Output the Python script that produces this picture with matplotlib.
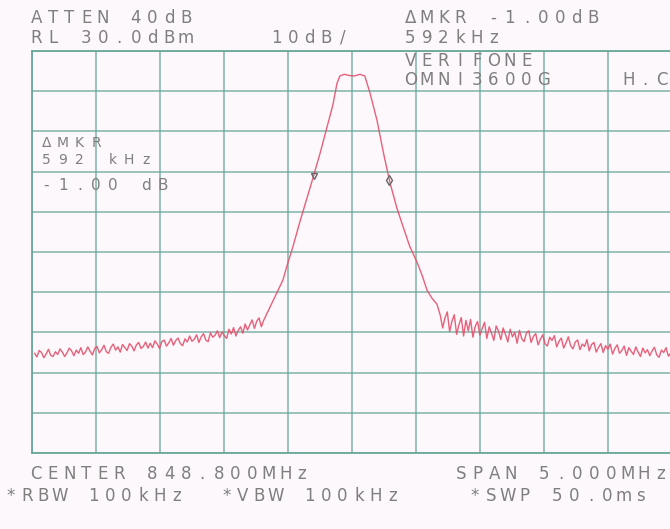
import matplotlib
matplotlib.use('Agg')
import matplotlib.pyplot as plt
import numpy as np

# Spectrum analyser settings (as printed on the plot)
center_mhz = 848.8
span_mhz = 5.0
ref_level_dbm = 30.0
db_per_div = 10.0

# Trace: frequency offset from centre [MHz] / level [dBm]
left_noise_db = [
    -45.2, -46.1, -44.5, -45.0, -46.3, -45.4, -44.2, -45.7, -46.0, -44.8,
    -45.5, -44.1, -44.9, -46.0, -45.1, -43.9, -44.6, -45.8, -44.4, -45.2,
    -43.8, -45.5, -44.9, -43.6, -44.7, -45.6, -44.0, -43.5, -45.1, -44.3,
    -43.2, -44.8, -45.2, -43.7, -42.9, -44.4, -43.6, -44.9, -43.0, -43.8,
    -44.5, -42.8, -43.4, -44.6, -43.1, -42.5, -44.0, -43.5, -42.4, -43.9,
    -42.7, -43.8, -42.1, -42.9, -44.0, -42.3, -41.9, -43.4, -42.6, -41.5,
    -43.2, -42.0, -41.4, -42.8, -43.3, -41.6, -42.4, -40.9, -42.2, -41.7,
    -40.6, -42.5, -41.1, -40.3, -41.9, -42.3, -40.1, -41.2, -40.7, -39.6,
    -41.3, -39.9, -40.8, -41.5, -39.2, -40.4, -38.8, -40.9, -39.5, -38.6,
    -40.2, -37.9, -39.4, -38.1, -36.9, -39.0, -37.2, -36.4, -38.6, -37.0,
]
left_noise_span = (-2.48, -0.69)

lobe_offsets = [-0.66, -0.64, -0.60, -0.56, -0.54, -0.51, -0.46, -0.41, -0.36,
                -0.305, -0.25, -0.195, -0.15, -0.117, -0.094, -0.06, -0.02,
                0.02, 0.06, 0.10, 0.14, 0.195, 0.25, 0.297, 0.35, 0.40, 0.45,
                0.51, 0.55, 0.586, 0.625, 0.664]
lobe_db = [-35.0, -33.7, -31.0, -28.3, -27.0, -23.7, -18.5, -12.8, -7.5,
           -1.6, 4.5, 11.1, 16.5, 22.0, 23.8, 24.2, 23.9,
           23.8, 24.2, 23.8, 19.6, 12.8, 4.0, -2.8, -9.0, -13.8, -18.5,
           -22.7, -26.0, -29.5, -31.5, -33.0]

right_noise_db = [
    -35.8, -38.9, -36.4, -34.9, -39.8, -37.2, -35.6, -40.5, -38.1, -36.3,
    -40.9, -37.0, -39.6, -36.8, -41.2, -38.5, -37.3, -40.7, -39.0, -37.5,
    -41.5, -38.6, -40.2, -42.0, -38.4, -39.7, -41.8, -38.9, -40.5, -42.4,
    -39.2, -41.1, -40.0, -42.7, -39.5, -41.6, -42.3, -40.1, -39.6, -42.5,
    -41.0, -40.3, -43.1, -41.7, -40.6, -42.8, -43.4, -41.2, -42.0, -40.8,
    -43.6, -42.2, -41.4, -43.9, -42.6, -41.1, -43.3, -44.1, -42.4, -41.9,
    -44.3, -42.9, -43.5, -41.8, -44.6, -43.0, -42.5, -44.9, -43.7, -42.8,
    -45.0, -43.3, -44.2, -42.9, -45.4, -44.0, -43.1, -45.2, -44.5, -43.4,
    -45.7, -43.8, -44.7, -45.5, -43.6, -44.9, -46.0, -43.9, -45.1, -44.3,
    -45.8, -44.6, -43.7, -45.6, -46.2, -44.4, -45.0, -43.8, -45.9, -45.2,
]
right_noise_span = (0.69, 2.49)

# delta marker pair (592 kHz apart)
marker_offsets = [-0.300, 0.292]

W, H = 670, 529
BG = '#fcf8fc'
GRID = '#6aa89a'
TRACE = '#e6506c'
INK = '#7f7f7f'

fig = plt.figure(figsize=(W / 100, H / 100), dpi=100, facecolor=BG)
ax = fig.add_axes([32 / W, 1 - 453 / H, 640 / W, 402 / H], facecolor=BG)

offs = np.concatenate([
    np.linspace(*left_noise_span, len(left_noise_db)),
    lobe_offsets,
    np.linspace(*right_noise_span, len(right_noise_db)),
])
lvl = np.concatenate([left_noise_db, lobe_db, right_noise_db])
freq = center_mhz + offs

ax.plot(freq, lvl, color=TRACE, lw=1.0, alpha=0.9, zorder=3)

mk_f = center_mhz + np.array(marker_offsets)
mk_l = np.interp(mk_f, freq, lvl)
ax.plot(mk_f[0], mk_l[0], marker='v', ms=5, mfc='none', mec='#666666', mew=1.0, zorder=4)
ax.plot(mk_f[1], mk_l[1], marker='d', ms=5, mfc='none', mec='#666666', mew=1.0, zorder=4)

f0 = center_mhz - span_mhz / 2
ax.set_xlim(f0, f0 + span_mhz)
ax.set_ylim(ref_level_dbm - 10 * db_per_div, ref_level_dbm)
ax.set_xticks(f0 + np.arange(11) * span_mhz / 10)
ax.set_yticks(ref_level_dbm - np.arange(11) * db_per_div)
ax.grid(True, color=GRID, lw=1.1, alpha=0.85)
ax.tick_params(length=0, labelbottom=False, labelleft=False)
for sp in ax.spines.values():
    sp.set_color(GRID)
    sp.set_linewidth(1.3)


def plotter_text(x, y, s, pitch=16.6, size=12):
    """Fixed-pitch text like the analyser's plotter, placed in pixel coords."""
    for i, ch in enumerate(s):
        if ch == ' ':
            continue
        fig.text((x + i * pitch + pitch / 2) / W, 1 - y / H, ch,
                 ha='center', va='center', fontsize=size, color=INK,
                 family='DejaVu Sans')


plotter_text(28, 18, 'ATTEN 40dB')
plotter_text(28, 38, 'RL 30.0dBm')
plotter_text(268, 38, '10dB/')
plotter_text(402, 18, 'ΔMKR -1.00dB')
plotter_text(402, 38, '592kHz')
plotter_text(402, 61, 'VERIFONE')
plotter_text(402, 80, 'OMNI3600G')
plotter_text(620, 80, 'H.C')
plotter_text(38, 143, 'ΔMKR', size=10)
plotter_text(38, 160, '592 kHz', size=10)
plotter_text(38, 185, '-1.00 dB', size=11)
plotter_text(28, 474, 'CENTER 848.800MHz')
plotter_text(453, 474, 'SPAN 5.000MHz')
plotter_text(2, 496, '*RBW 100kHz')
plotter_text(218, 496, '*VBW 100kHz')
plotter_text(466, 496, '*SWP 50.0ms')

fig.savefig('out.png', dpi=100, facecolor=BG)
